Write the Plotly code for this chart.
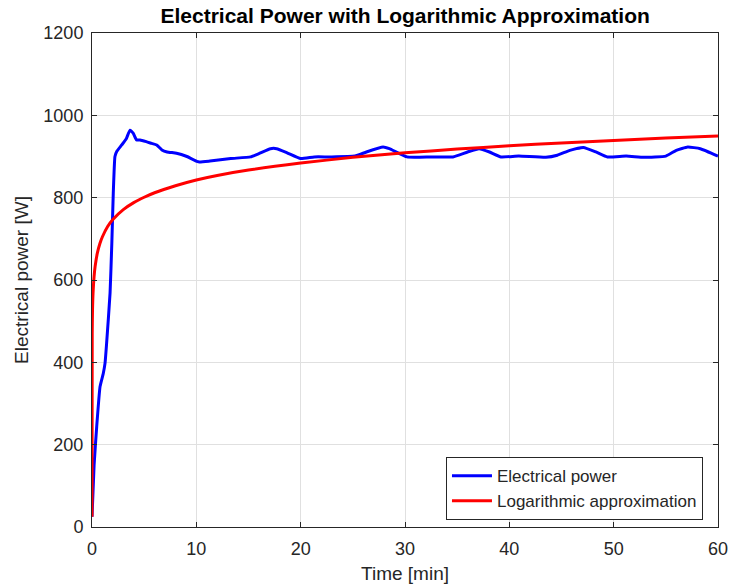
import plotly.graph_objects as go

# Electrical power (blue)
t_power = [0, 0.2, 0.45, 0.77, 1.08, 1.25, 1.4, 1.73, 1.9, 2.04, 2.2, 2.37, 2.85, 3.3, 3.64, 3.96,
           4.28, 4.6, 5.2, 5.7, 6.2, 6.7, 7.2, 8.1, 9.1, 10.2, 11.3, 13.3, 15.2, 16.0, 17.1, 17.7,
           18.7, 20.0, 21.3, 22.9, 25.2, 26.3, 27.9, 28.5, 30.2, 32.5, 34.6, 36.0, 37.1, 38.1,
           39.2, 40.9, 43.5, 44.6, 45.8, 47.1, 48.3, 49.4, 51.2, 52.9, 55.0, 56.0, 57.1, 58.3, 60.0]
w_power = [25, 150, 244, 341, 373, 398, 446, 568, 689, 811, 900, 912, 928, 944, 964, 956,
           940, 940, 936, 932, 928, 916, 911, 908, 900, 887, 889, 895, 899, 907, 919, 919,
           909, 895, 899, 899, 901, 911, 923, 919, 899, 899, 899, 911, 919, 911,
           899, 901, 898, 903, 915, 922, 911, 899, 901, 898, 901, 915, 923, 919, 901]

# Logarithmic approximation (red)
t_log = [0, 0.02, 0.05, 0.1, 0.2, 0.3, 0.5, 0.75, 1, 1.5, 2, 3, 4, 5, 6, 8, 10, 12, 15, 20,
         25, 30, 35, 40, 45, 50, 55, 60]
w_log = [25, 470, 527, 568, 609, 633, 664, 688, 705, 730, 747, 771, 788, 801, 812, 829, 843,
         854, 867, 884, 898, 909, 918, 926, 933, 939, 945, 950]

x_ticks = [0, 10, 20, 30, 40, 50, 60]
y_ticks = [0, 200, 400, 600, 800, 1000, 1200]

FONT = "Liberation Sans, Arial, sans-serif"
AX = "#262626"

fig = go.Figure()
fig.add_trace(go.Scatter(x=t_power, y=w_power, mode="lines", name="Electrical power",
                         line=dict(color="#0000ff", width=3, shape="spline", smoothing=0.4)))
fig.add_trace(go.Scatter(x=t_log, y=w_log, mode="lines", name="Logarithmic approximation",
                         line=dict(color="#ff0000", width=3, shape="spline", smoothing=0.6)))

axis_common = dict(showline=True, linecolor=AX, linewidth=1, mirror="ticks",
                   ticks="inside", ticklen=5, tickcolor=AX, automargin=False,
                   showgrid=True, gridcolor="#e0e0e0", gridwidth=1, zeroline=False,
                   tickfont=dict(family=FONT, size=18, color=AX))

fig.update_xaxes(range=[0, 60], tickvals=x_ticks, ticklabelstandoff=5,
                 title=dict(text="Time [min]", font=dict(family=FONT, size=19, color=AX), standoff=9),
                 **axis_common)
fig.update_yaxes(range=[0, 1200], tickvals=y_ticks, ticklabelstandoff=4,
                 title=dict(text="Electrical power [W]", font=dict(family=FONT, size=19, color=AX), standoff=9),
                 **axis_common)

fig.update_layout(
    width=730, height=588,
    margin=dict(l=92, r=12, t=33, b=61),
    paper_bgcolor="white", plot_bgcolor="white",
    title=dict(text="<b>Electrical Power with Logarithmic Approximation</b>",
               x=0.555, xanchor="center", y=0.986, yanchor="top",
               font=dict(family=FONT, size=21, color="black")),
    legend=dict(x=0.976, xanchor="right", y=0.014, yanchor="bottom",
                bgcolor="white", bordercolor=AX, borderwidth=1,
                font=dict(family=FONT, size=17, color=AX),
                tracegroupgap=0, itemwidth=40),
    showlegend=True,
)

fig.write_html("out.html")
